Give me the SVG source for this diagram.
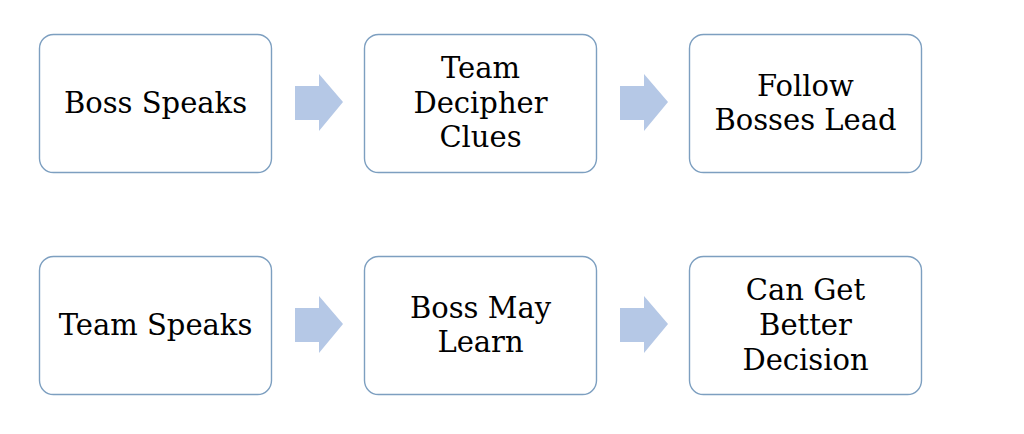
<svg xmlns="http://www.w3.org/2000/svg" width="1024" height="434" viewBox="0 0 1024 434">
<defs>
<style>
.box{fill:#fff;stroke:#7d9fc0;stroke-width:1.4}
.t{font-family:"DejaVu Serif","Liberation Serif",serif;font-size:29px;fill:#000;text-anchor:middle}
.arr{fill:#b5c8e6}
</style>
<path id="a" class="arr" d="M0,12 H24 V0 L48,28 L24,57 V46 H0 Z"/>
</defs>
<rect width="1024" height="434" fill="#fff"/>
<g id="connectors">
<use href="#a" x="295" y="74"/>
<use href="#a" x="620" y="74"/>
<use href="#a" x="295" y="296"/>
<use href="#a" x="620" y="296"/>
</g>
<g id="n1"><rect class="box" x="39.5" y="34.5" width="232" height="138" rx="14"/><text class="t" x="155.5" y="113">Boss Speaks</text></g>
<g id="n2"><rect class="box" x="364.5" y="34.5" width="232" height="138" rx="14"/><text class="t" x="480.5" y="78">Team</text><text class="t" x="480.5" y="113">Decipher</text><text class="t" x="480.5" y="147">Clues</text></g>
<g id="n3"><rect class="box" x="689.5" y="34.5" width="232" height="138" rx="14"/><text class="t" x="805.5" y="96">Follow</text><text class="t" x="805.5" y="130">Bosses Lead</text></g>
<g id="n4"><rect class="box" x="39.5" y="256.5" width="232" height="138" rx="14"/><text class="t" x="155.5" y="335">Team Speaks</text></g>
<g id="n5"><rect class="box" x="364.5" y="256.5" width="232" height="138" rx="14"/><text class="t" x="480.5" y="318">Boss May</text><text class="t" x="480.5" y="352">Learn</text></g>
<g id="n6"><rect class="box" x="689.5" y="256.5" width="232" height="138" rx="14"/><text class="t" x="805.5" y="300">Can Get</text><text class="t" x="805.5" y="335">Better</text><text class="t" x="805.5" y="370">Decision</text></g>
</svg>
